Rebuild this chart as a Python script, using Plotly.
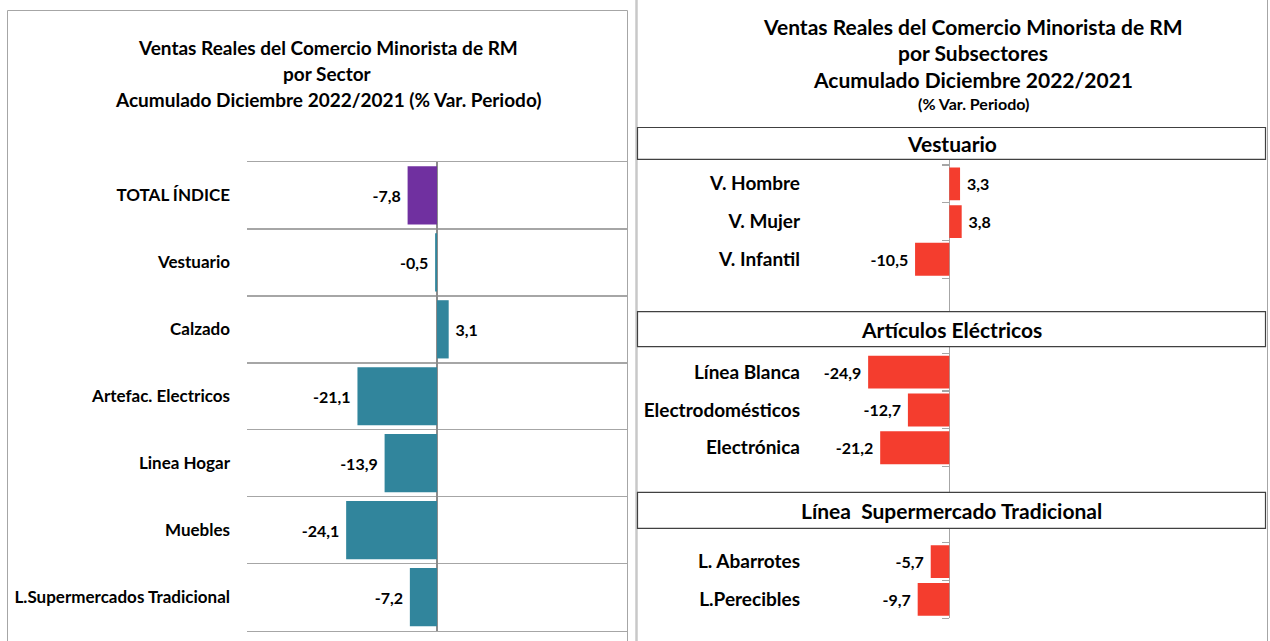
import plotly.graph_objects as go

# ---------------- data ----------------
sector_labels = ["TOTAL ÍNDICE", "Vestuario", "Calzado", "Artefac. Electricos",
                 "Linea Hogar", "Muebles", "L.Supermercados Tradicional"]
sector_values = [-7.8, -0.5, 3.1, -21.1, -13.9, -24.1, -7.2]

vest_labels = ["V. Hombre", "V. Mujer", "V. Infantil"]
vest_values = [3.3, 3.8, -10.5]

elec_labels = ["Línea Blanca", "Electrodomésticos", "Electrónica"]
elec_values = [-24.9, -12.7, -21.2]

super_labels = ["L. Abarrotes", "L.Perecibles"]
super_values = [-5.7, -9.7]

left_title = ["Ventas Reales del Comercio Minorista de RM", "por Sector",
              "Acumulado Diciembre 2022/2021 (% Var. Periodo)"]
right_title = ["Ventas Reales del Comercio Minorista de RM", "por Subsectores",
               "Acumulado Diciembre 2022/2021"]
right_subtitle = "(% Var. Periodo)"
section_titles = ["Vestuario", "Artículos Eléctricos", "Línea  Supermercado Tradicional"]

# ---------------- style ----------------
W, H = 1270, 641
FONT = "Lato"
TEAL = "#31859C"
PURPLE = "#7030A0"
RED = "#F43D2E"


def px(x):
    return x / W


def py(y):
    return 1 - y / H


def fmt(v):
    s = f"{v:.1f}".replace(".", ",")
    return s + " " if v < 0 else " " + s


fig = go.Figure()

# ---------------- left chart ----------------
colors_left = [PURPLE] + [TEAL] * (len(sector_values) - 1)
fig.add_trace(go.Bar(
    y=sector_labels, x=sector_values, orientation="h",
    marker=dict(color=colors_left, line=dict(width=0)),
    width=0.87,
    text=[fmt(v) for v in sector_values], textposition="outside",
    textfont=dict(family=FONT, size=16, color="black", weight="bold"),
    constraintext="none", cliponaxis=False,
    xaxis="x", yaxis="y", showlegend=False, hoverinfo="skip",
))

n_left = len(sector_labels)
fig.update_layout(
    xaxis=dict(domain=[px(247), px(627)], range=[-50.4, 50.4], anchor="y",
               showgrid=False, showticklabels=False, ticks="",
               showline=True, mirror=True, linecolor="#A6A6A6", linewidth=1.5,
               zeroline=True, zerolinecolor="#8C8C8C", zerolinewidth=1.5),
    yaxis=dict(domain=[py(630.5), py(162)], anchor="x", type="category",
               categoryorder="array", categoryarray=sector_labels,
               range=[n_left - 0.5, -0.5], tickson="boundaries",
               showgrid=True, gridcolor="#A6A6A6", gridwidth=1.5,
               ticks="", ticklabelstandoff=16,
               tickfont=dict(family=FONT, size=17, color="black", weight="bold"),
               zeroline=False, showline=False),
)

# ---------------- right charts ----------------
sections = [
    (vest_labels, vest_values, 159.3, 311.7, -0.65, 0.89),
    (elec_labels, elec_values, 346.7, 492.3, -0.675, 0.68),
    (super_labels, super_values, 528.3, 618.3, -0.88, 0.0),
]
zero_x = 949.3
x_left_px, x_right_px = 804, 1265
scale = 3.26
xr = [-(zero_x - x_left_px) / scale, (x_right_px - zero_x) / scale]

for i, (labs, vals, ytop, ybot, top_ext, bot_ext) in enumerate(sections):
    k = i + 2
    fig.add_trace(go.Bar(
        y=labs, x=vals, orientation="h",
        marker=dict(color=RED, line=dict(width=0)),
        width=0.87,
        text=[fmt(v) for v in vals], textposition="outside",
        textfont=dict(family=FONT, size=16, color="black", weight="bold"),
        constraintext="none", cliponaxis=False,
        xaxis=f"x{k}", yaxis=f"y{k}", showlegend=False, hoverinfo="skip",
    ))
    n = len(labs)
    rng = [n - 0.5 + bot_ext, top_ext]
    fig.layout[f"xaxis{k}"] = dict(
        domain=[px(x_left_px), px(x_right_px)], range=xr, anchor=f"y{k}",
        showgrid=False, showticklabels=False, ticks="",
        zeroline=True, zerolinecolor="#A6A6A6", zerolinewidth=1.5)
    fig.layout[f"yaxis{k}"] = dict(
        domain=[py(ybot), py(ytop)], anchor=f"x{k}", type="category",
        categoryorder="array", categoryarray=labs, range=rng,
        showgrid=False, ticks="", ticklabelstandoff=3,
        tickfont=dict(family=FONT, size=19, color="black", weight="bold"),
        zeroline=False, showline=False)

    # tick marks at the category boundaries on the zero line
    k2 = k + 10
    fig.add_trace(go.Scatter(x=[None], y=[None], xaxis=f"x{k}", yaxis=f"y{k2}",
                             showlegend=False, hoverinfo="skip"))
    fig.layout[f"yaxis{k2}"] = dict(
        domain=[py(ybot), py(ytop)], overlaying=f"y{k}", anchor="free",
        position=px(zero_x), range=rng, type="linear",
        tickvals=[j - 0.5 for j in range(n + 1)], ticks="outside", ticklen=7,
        tickcolor="#A6A6A6", tickwidth=1.2, showticklabels=False,
        showgrid=False, zeroline=False, showline=False)

# ---------------- shapes ----------------
shapes = []
# left panel border
shapes.append(dict(type="rect", xref="paper", yref="paper",
                   x0=px(7.5), x1=px(627.5), y0=py(660), y1=py(10.5),
                   line=dict(color="#A6A6A6", width=1), layer="below"))
# right panel borders
shapes.append(dict(type="line", xref="paper", yref="paper",
                   x0=px(636.5), x1=px(636.5), y0=0, y1=1,
                   line=dict(color="#C8C8C8", width=2.5)))
shapes.append(dict(type="line", xref="paper", yref="paper",
                   x0=px(1267.5), x1=px(1267.5), y0=0, y1=1,
                   line=dict(color="#A6A6A6", width=1)))
# section header boxes
boxes = [(127.5, 159.3), (311.7, 346.7), (492.3, 528.3)]
for (t, b) in boxes:
    shapes.append(dict(type="rect", xref="paper", yref="paper",
                       x0=px(637.5), x1=px(1265.5), y0=py(b), y1=py(t),
                       line=dict(color="#404040", width=1.2),
                       fillcolor="white"))

annotations = []
for txt, yc in zip(left_title, [47, 73, 99]):
    annotations.append(dict(text=txt, x=px(327.5), y=py(yc), xref="paper", yref="paper",
                            showarrow=False, xanchor="center", yanchor="middle",
                            font=dict(family=FONT, size=19, color="black", weight="bold")))
for txt, yc in zip(right_title, [27, 53, 79]):
    annotations.append(dict(text=txt, x=px(973), y=py(yc), xref="paper", yref="paper",
                            showarrow=False, xanchor="center", yanchor="middle",
                            font=dict(family=FONT, size=21, color="black", weight="bold")))
annotations.append(dict(text=right_subtitle, x=px(973), y=py(104), xref="paper", yref="paper",
                        showarrow=False, xanchor="center", yanchor="middle",
                        font=dict(family=FONT, size=16, color="black", weight="bold")))
for txt, (t, b) in zip(section_titles, boxes):
    annotations.append(dict(text=txt, x=px(951.5), y=py((t + b) / 2), xref="paper", yref="paper",
                            showarrow=False, xanchor="center", yanchor="middle",
                            font=dict(family=FONT, size=21, color="black", weight="bold")))

fig.update_layout(
    width=W, height=H, autosize=False,
    margin=dict(l=0, r=0, t=0, b=0, pad=0),
    paper_bgcolor="white", plot_bgcolor="rgba(0,0,0,0)",
    shapes=shapes, annotations=annotations,
    bargap=0.13, showlegend=False,
    font=dict(family=FONT, color="black"),
)

fig.write_html("out.html",
               config={"displayModeBar": False, "staticPlot": True},
               post_script="document.body.style.margin='0';document.body.style.overflow='hidden';")
